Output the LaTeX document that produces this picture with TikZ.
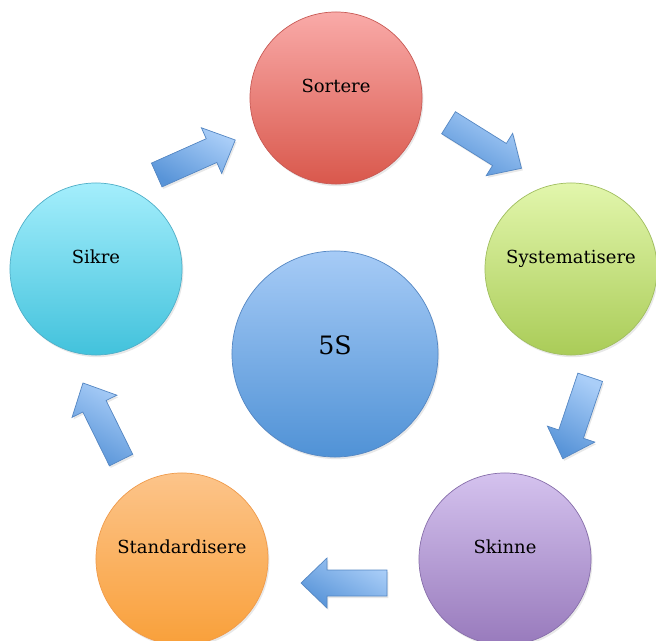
\documentclass[tikz,border=0pt]{standalone}
\usepackage{fontspec}
\setmainfont{DejaVu Serif}
\usetikzlibrary{shadows}

\definecolor{sortTop}{RGB}{249,170,168}
\definecolor{sortBot}{RGB}{217,88,76}
\definecolor{sortLine}{RGB}{200,90,85}
\definecolor{sysTop}{RGB}{226,246,172}
\definecolor{sysBot}{RGB}{170,204,88}
\definecolor{sysLine}{RGB}{160,190,95}
\definecolor{skinTop}{RGB}{212,194,238}
\definecolor{skinBot}{RGB}{152,122,188}
\definecolor{skinLine}{RGB}{135,110,170}
\definecolor{stdTop}{RGB}{252,196,138}
\definecolor{stdBot}{RGB}{249,160,58}
\definecolor{stdLine}{RGB}{240,155,75}
\definecolor{sikTop}{RGB}{164,238,252}
\definecolor{sikBot}{RGB}{66,194,220}
\definecolor{sikLine}{RGB}{80,175,200}
\definecolor{fiveTop}{RGB}{166,203,246}
\definecolor{fiveBot}{RGB}{80,146,214}
\definecolor{fiveLine}{RGB}{85,135,195}
\definecolor{arrTop}{RGB}{170,206,248}
\definecolor{arrBot}{RGB}{88,148,216}

\begin{document}
\begin{tikzpicture}[x=0.025cm, y=0.025cm,
  phase/.style={circle, inner sep=0pt, minimum size=4.3cm, line width=0.5pt,
    text depth=0.62cm, font=\fontsize{12.8}{15}\selectfont,
    drop shadow={opacity=0.18, shadow xshift=1pt, shadow yshift=-1.5pt}},
  flowarrow/.pic={\draw[draw=fiveLine, line width=0.5pt, top color=arrTop, bottom color=arrBot, shading angle=-30,
      drop shadow={opacity=0.18, shadow xshift=1pt, shadow yshift=-1.5pt}]
      (-43,-13) -- (17,-13) -- (17,-25) -- (43,0) -- (17,25) -- (17,13) -- (-43,13) -- cycle;}]
\useasboundingbox (0,0) rectangle (656,640);

% the five phases
\node[phase, draw=sortLine, top color=sortTop, bottom color=sortBot] (sortere) at (336,542) {Sortere};
\node[phase, draw=sysLine, top color=sysTop, bottom color=sysBot] (systematisere) at (571,371) {Systematisere};
\node[phase, draw=skinLine, top color=skinTop, bottom color=skinBot] (skinne) at (505,81) {Skinne};
\node[phase, draw=stdLine, top color=stdTop, bottom color=stdBot] (standardisere) at (182,81) {Standardisere};
\node[phase, draw=sikLine, top color=sikTop, bottom color=sikBot] (sikre) at (96,371) {Sikre};

% centre
\node[phase, minimum size=5.15cm, text depth=0.45cm, font=\fontsize{18}{20}\selectfont,
  draw=fiveLine, top color=fiveTop, bottom color=fiveBot] (fiveS) at (335,286) {5S};

% block arrows
\pic[rotate=24] (a1) at (196,482.5) {flowarrow};
\pic[rotate=-32] (a2) at (485,494.5) {flowarrow};
\pic[rotate=-108.6] (a3) at (576.5,222) {flowarrow};
\pic[rotate=180] (a4) at (344,57) {flowarrow};
\pic[rotate=116.3] (a5) at (102,218.5) {flowarrow};
\end{tikzpicture}
\end{document}
